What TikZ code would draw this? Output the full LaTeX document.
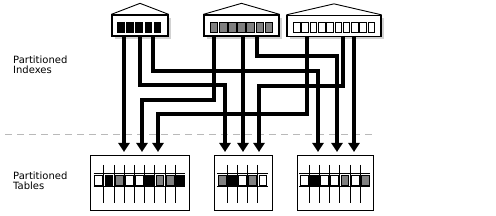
\documentclass[tikz,border=0pt]{standalone}
\usepackage{fontspec}
\setmainfont{DejaVu Sans}
\usetikzlibrary{arrows.meta,calc,shadows}
\tikzset{pin/.style={line width=4pt, -{Triangle[width=11pt,length=9pt]}},
  idx/.style={draw, line width=1.3pt, fill=white, minimum height=21pt, inner sep=0pt,
    drop shadow={shadow xshift=3pt, shadow yshift=-3pt, opacity=1, fill=gray!35}},
  tbl/.style={draw, line width=1pt, minimum height=54.5pt, inner sep=0pt},
  cell/.style={draw, line width=0.8pt},
  rule/.style={line width=0.8pt},
  lbl/.style={align=left, inner sep=0pt, font=\fontsize{10}{9.5}\selectfont}}

\begin{document}
\begin{tikzpicture}[x=1pt, y=-1pt]
  \useasboundingbox (0,0) rectangle (496,216);
  % labels
  \node[lbl, anchor=north west] (lix) at (13,56) {Partitioned\\Indexes};
  \node[lbl, anchor=north west] (ltb) at (13,172) {Partitioned\\Tables};
  % divider
  \draw[gray!55, line width=1pt, dash pattern=on 7pt off 5pt] (5,135) -- (375,135);
  % index partitions
  \node[idx, minimum width=56pt] (i1) at (140,25.5) {};
  \node[idx, minimum width=75pt] (i2) at (241.5,25.5) {};
  \node[idx, minimum width=94pt] (i3) at (334,26) {};
  \foreach \n in {i1,i2,i3}
    \draw[line width=0.9pt] (\n.north west) -- ([yshift=11pt]\n.north) -- (\n.north east);
  \foreach \k in {0,...,4}
    \fill[black] (117+9.2*\k,22) rectangle ++(7.6,11);
  \foreach \k in {0,...,6}
    \draw[cell, fill=gray] (210.4+9.1*\k,22.4) rectangle ++(7.4,10.4);
  \foreach \k in {0,...,9}
    \draw[cell, fill=white] (293.4+8.3*\k,22.4) rectangle ++(6.6,10);
  % table partitions
  \node[tbl, minimum width=99pt] (t1) at (139.5,183.25) {};
  \node[tbl, minimum width=58pt] (t2) at (243,183.25) {};
  \node[tbl, minimum width=76pt] (t3) at (335,183.25) {};
  % rows of t1
  \draw[rule] (93.5,173.3) -- ++(91.8,0) (93.5,186.7) -- ++(91.8,0);
  \foreach \k in {1,...,8}
    \draw[rule] (93.5+10.2*\k,165) -- ++(0,38);
  \foreach \c [count=\k from 0] in {white,black,gray,white,white,black,gray,gray,black}
    \draw[cell, fill=\c] (94.7+10.2*\k,175) rectangle ++(7.8,10);
  % rows of t2
  \draw[rule] (217,173.3) -- ++(51,0) (217,186.7) -- ++(51,0);
  \foreach \k in {1,...,4}
    \draw[rule] (217+10.2*\k,165) -- ++(0,38);
  \foreach \c [count=\k from 0] in {gray,black,white,gray,white}
    \draw[cell, fill=\c] (218.2+10.2*\k,175) rectangle ++(7.8,10);
  % rows of t3
  \draw[rule] (299,173.3) -- ++(71.4,0) (299,186.7) -- ++(71.4,0);
  \foreach \k in {1,...,6}
    \draw[rule] (299+10.2*\k,165) -- ++(0,38);
  \foreach \c [count=\k from 0] in {white,black,white,white,gray,white,gray}
    \draw[cell, fill=\c] (300.2+10.2*\k,175) rectangle ++(7.8,10);
  % exits and entries
  \coordinate (i1a) at (124,36);  \coordinate (i1b) at (140,36);  \coordinate (i1c) at (153,36);
  \coordinate (i2a) at (214,36);  \coordinate (i2b) at (243,36);  \coordinate (i2c) at (257,36);
  \coordinate (i3a) at (307,36);  \coordinate (i3b) at (343,36);  \coordinate (i3c) at (354,36);
  \coordinate (t1a) at (124,152); \coordinate (t1b) at (142,152); \coordinate (t1c) at (158,152);
  \coordinate (t2a) at (225,152); \coordinate (t2b) at (243,152); \coordinate (t2c) at (259,152);
  \coordinate (t3a) at (318,152); \coordinate (t3b) at (337,152); \coordinate (t3c) at (354,152);
  % pointers
  \draw[pin] (i1a) -- (t1a);
  \draw[pin] (i1b) -- ++(0,49) -| (t2a);
  \draw[pin] (i1c) -- ++(0,35) -| (t3a);
  \draw[pin] (i2a) -- ++(0,64) -| (t1b);
  \draw[pin] (i2b) -- (t2b);
  \draw[pin] (i2c) -- ++(0,20) -| (t3b);
  \draw[pin] (i3a) -- ++(0,78) -| (t1c);
  \draw[pin] (i3b) -- ++(0,50) -| (t2c);
  \draw[pin] (i3c) -- (t3c);
\end{tikzpicture}
\end{document}
